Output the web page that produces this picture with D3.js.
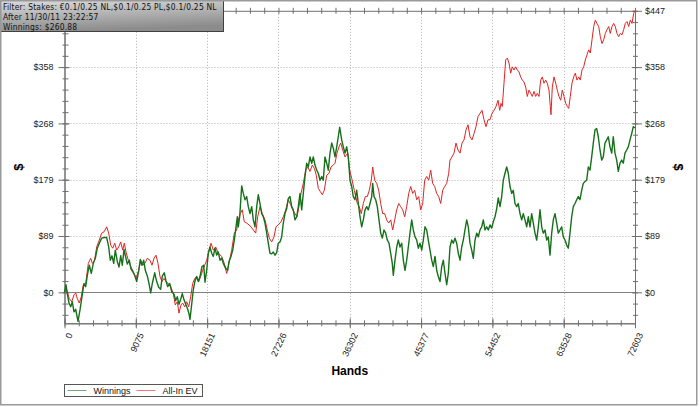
<!DOCTYPE html>
<html>
<head>
<meta charset="utf-8">
<script src="https://cdn.jsdelivr.net/npm/d3@7"></script>
<style>
  body { margin: 0; background: #fff; }
  svg { display: block; }
</style>
</head>
<body>
<script>

// [hands, dollars]
const winnings = [[0,0],[191,12],[356,-2],[573,-17],[789,-23],[993,-15],[1209,-31],[1425,-27],[1718,-46],[1973,-28],[2227,-7],[2482,14],[2698,9],[2902,27],[3156,43],[3411,30],[3665,46],[3920,54],[4174,70],[4429,78],[4734,86],[5065,87],[5370,87],[5625,72],[5829,51],[6045,58],[6261,46],[6465,67],[6719,49],[6936,40],[7152,58],[7356,43],[7572,68],[7788,56],[7992,45],[8246,51],[8463,37],[8679,33],[8934,27],[9188,17],[9443,34],[9646,52],[9863,43],[10079,51],[10283,35],[10537,26],[10754,14],[10970,-1],[11174,14],[11479,31],[11733,17],[11988,8],[12242,5],[12446,26],[12701,31],[12917,18],[13133,9],[13388,14],[13642,1],[13935,-3],[14151,-13],[14355,-7],[14571,-19],[14788,-11],[14991,-2],[15207,-12],[15424,-19],[15627,-25],[15844,-34],[15971,-43],[16187,-19],[16391,4],[16607,18],[16824,25],[17027,17],[17244,25],[17498,41],[17714,43],[17880,16],[18096,35],[18300,62],[18516,72],[18733,62],[18936,57],[19153,70],[19369,59],[19573,64],[19789,51],[20005,54],[20209,46],[20514,38],[20769,35],[20934,49],[21189,57],[21405,67],[21609,83],[21825,104],[21991,120],[22118,104],[22296,120],[22551,169],[22754,157],[22971,147],[23187,152],[23391,136],[23607,125],[23823,136],[24027,115],[24243,104],[24459,136],[24663,155],[24879,141],[25096,125],[25299,120],[25516,110],[25732,94],[25936,78],[26152,62],[26368,61],[26572,64],[26788,59],[27004,63],[27208,78],[27425,80],[27641,88],[27845,110],[28061,125],[28277,133],[28481,149],[28697,152],[28913,136],[29117,131],[29333,115],[29550,120],[29753,136],[29970,157],[30186,131],[30390,157],[30606,184],[30822,205],[31026,199],[31242,215],[31459,205],[31662,215],[31879,202],[32095,194],[32299,189],[32515,178],[32731,184],[32935,178],[33151,215],[33368,205],[33571,194],[33788,221],[34004,237],[34208,229],[34424,215],[34640,231],[34844,247],[35022,262],[35277,242],[35480,231],[35697,221],[35913,231],[36117,215],[36333,178],[36549,168],[36753,152],[36969,147],[37186,162],[37389,141],[37606,120],[37822,104],[38026,115],[38242,131],[38458,136],[38662,131],[38878,141],[39095,152],[39222,173],[39387,152],[39604,147],[39807,136],[40024,115],[40240,94],[40444,86],[40660,99],[40876,94],[41080,83],[41296,78],[41513,62],[41716,46],[41844,27],[42060,51],[42276,72],[42480,83],[42697,72],[42913,78],[43117,51],[43333,35],[43549,51],[43753,72],[43969,94],[44186,115],[44389,99],[44606,88],[44822,83],[45026,70],[45242,78],[45458,67],[45662,83],[45878,104],[46094,99],[46298,83],[46515,67],[46731,51],[46935,41],[47151,57],[47367,35],[47571,25],[47787,17],[48004,41],[48207,51],[48424,30],[48640,12],[48844,30],[49060,72],[49276,83],[49480,78],[49696,86],[49913,78],[50116,62],[50333,51],[50549,72],[50753,83],[50969,99],[51185,115],[51389,104],[51605,78],[51822,67],[52025,54],[52242,83],[52458,94],[52662,88],[52878,99],[53094,104],[53298,115],[53514,99],[53731,104],[53934,99],[54151,107],[54367,102],[54571,112],[54787,120],[55003,133],[55200,150],[55422,136],[55638,152],[55842,178],[56058,189],[56274,199],[56478,189],[56694,168],[56911,157],[57114,162],[57331,141],[57547,136],[57751,141],[57967,125],[58183,115],[58387,125],[58603,115],[58820,104],[59023,120],[59240,104],[59456,125],[59660,110],[59876,94],[60092,83],[60296,104],[60512,131],[60729,104],[60932,94],[61149,99],[61365,83],[61569,88],[61785,59],[62001,94],[62205,115],[62421,125],[62638,110],[62841,94],[63058,99],[63274,104],[63478,88],[63694,83],[63910,75],[64114,70],[64330,94],[64546,120],[64750,136],[64967,141],[65183,147],[65387,152],[65603,147],[65819,162],[66023,173],[66239,176],[66456,178],[66659,199],[66876,194],[67092,215],[67296,237],[67512,258],[67728,260],[67932,247],[68148,226],[68364,210],[68568,215],[68784,237],[69001,242],[69204,247],[69421,231],[69637,221],[69841,247],[70057,221],[70273,210],[70477,192],[70693,205],[70910,210],[71113,205],[71330,221],[71546,226],[71750,231],[71966,242],[72182,252],[72386,263],[72603,261]]

const allInEV = [[0,0],[280,4],[611,-10],[916,-15],[1209,-4],[1425,-1],[1629,-10],[1883,-17],[2138,-7],[2392,12],[2698,14],[3029,46],[3334,54],[3538,46],[3792,49],[4098,72],[4429,83],[4734,94],[5027,96],[5370,104],[5625,94],[5879,75],[6134,70],[6388,78],[6643,67],[6897,72],[7152,80],[7407,67],[7610,78],[7826,64],[8119,51],[8424,41],[8755,33],[9099,22],[9443,35],[9697,51],[9952,43],[10244,46],[10537,54],[10881,51],[11135,43],[11390,54],[11644,59],[11899,46],[12153,25],[12408,17],[12662,22],[12917,17],[13210,14],[13515,9],[13846,-2],[14100,-20],[14355,-15],[14571,-33],[14826,-20],[15042,-17],[15297,-23],[15551,-15],[15806,-23],[16060,-7],[16315,14],[16569,22],[16824,25],[17078,17],[17333,25],[17587,35],[17842,43],[18096,51],[18325,63],[18644,78],[18936,67],[19242,72],[19573,62],[20005,57],[20336,46],[20642,30],[20934,46],[21278,67],[21609,94],[21914,99],[22118,115],[22372,125],[22627,131],[22881,112],[23187,110],[23480,107],[23734,104],[24027,99],[24332,94],[24587,120],[24879,136],[25172,125],[25516,115],[25808,99],[26063,86],[26368,80],[26661,88],[26915,104],[27208,107],[27552,112],[27845,120],[28150,131],[28481,147],[28786,139],[29041,131],[29333,125],[29588,120],[29843,136],[30097,157],[30390,173],[30695,194],[30950,199],[31242,192],[31535,202],[31790,197],[32044,186],[32299,165],[32553,160],[32808,155],[33062,162],[33368,186],[33661,189],[33915,199],[34208,202],[34424,205],[34679,221],[34933,231],[35149,237],[35404,226],[35697,215],[36041,221],[36295,194],[36549,181],[36880,162],[37262,141],[37516,136],[37771,125],[38026,141],[38280,152],[38535,152],[38789,162],[39044,178],[39222,199],[39476,178],[39731,173],[39985,162],[40240,141],[40495,125],[40749,125],[41004,115],[41258,110],[41513,115],[41767,99],[42022,115],[42276,131],[42531,141],[42785,136],[43040,131],[43294,120],[43549,136],[43803,157],[44058,168],[44312,157],[44567,162],[44822,147],[45076,152],[45331,131],[45585,141],[45840,178],[46094,184],[46349,178],[46603,194],[46858,173],[47112,168],[47367,157],[47621,152],[47876,141],[48130,162],[48385,168],[48640,173],[48894,189],[49060,210],[49314,215],[49569,221],[49823,237],[50078,226],[50333,221],[50587,237],[50842,242],[51096,258],[51351,266],[51605,247],[51860,242],[52114,252],[52369,263],[52623,279],[52878,284],[53132,289],[53387,274],[53641,263],[53896,274],[54151,274],[54405,284],[54660,289],[54914,295],[55169,305],[55385,289],[55550,300],[55715,295],[55931,332],[56147,369],[56351,372],[56567,364],[56783,348],[56987,358],[57203,353],[57419,358],[57623,353],[57840,350],[58056,342],[58260,337],[58476,334],[58692,326],[58896,311],[59112,321],[59328,316],[59532,311],[59748,319],[59964,311],[60168,316],[60385,311],[60601,337],[60805,342],[61021,332],[61237,337],[61441,332],[61657,321],[61823,295],[61912,282],[62078,326],[62294,342],[62510,332],[62714,321],[62930,311],[63147,305],[63350,321],[63567,311],[63783,300],[63987,295],[64165,292],[64369,311],[64585,332],[64801,342],[65005,348],[65222,337],[65438,342],[65642,337],[65858,353],[66074,358],[66278,369],[66494,377],[66710,385],[66914,380],[67130,401],[67347,422],[67550,432],[67767,427],[67983,422],[68187,406],[68403,395],[68619,401],[68823,411],[69039,417],[69256,422],[69459,411],[69676,422],[69892,427],[70096,422],[70312,411],[70528,406],[70732,411],[70948,409],[71165,417],[71368,427],[71585,430],[71801,422],[72005,432],[72221,427],[72437,443],[72603,447]]

const xTicks = [0, 9075, 18151, 27226, 36302, 45377, 54452, 63528, 72603]
const xTickLabels = ['0', '9075', '18151', '27226', '36302', '45377', '54452', '63528', '72603']
const yTicks = [0, 89.4, 178.8, 268.2, 357.6, 447]
const yTickLabels = ['$0', '$89', '$179', '$268', '$358', '$447']
const infoLines = ['Filter: Stakes: €0.1/0.25 NL,$0.1/0.25 PL,$0.1/0.25 NL', 'After 11/30/11 23:22:57', 'Winnings: $260.88']
const seriesNames = ['Winnings', 'All-In EV']
const seriesColors = ['#16701a', '#e02424']

const W = 700, H = 407
const pLeft = 64.5, pRight = 635, pTop = 10.8, pBottom = 323.3

const x = d3.scaleLinear().domain([0, 72603]).range([pLeft, pRight])
const y = d3.scaleLinear().domain([-49.2, 447]).range([pBottom, pTop])

const xMinor = d3.range(0, 41).map(i => 72603 * i / 40)
const yMinor = d3.range(-2, 26).map(i => 17.88 * i)

const font = '"Liberation Sans", Arial, sans-serif'

const svg = d3.select('body')
    .append('svg')
    .attr('width', W)
    .attr('height', H)
    .style('font-family', font)

svg.append('rect')
    .attr('width', W)
    .attr('height', H)
    .attr('fill', '#fff')

// grid
svg.append('g')
    .selectAll('line')
    .data(xTicks.slice(1, -1))
    .join('line')
    .attr('x1', d => Math.round(x(d)) + 0.5)
    .attr('x2', d => Math.round(x(d)) + 0.5)
    .attr('y1', pTop)
    .attr('y2', pBottom)
    .attr('stroke', '#b0b0b0')
    .attr('stroke-dasharray', '1,2')

svg.append('g')
    .selectAll('line')
    .data(yTicks.slice(1, -1))
    .join('line')
    .attr('x1', pLeft)
    .attr('x2', pRight)
    .attr('y1', d => Math.round(y(d)) + 0.5)
    .attr('y2', d => Math.round(y(d)) + 0.5)
    .attr('stroke', '#b0b0b0')
    .attr('stroke-dasharray', '1,2')

svg.append('line')
    .attr('x1', pLeft)
    .attr('x2', pRight)
    .attr('y1', Math.round(y(0)) + 0.5)
    .attr('y2', Math.round(y(0)) + 0.5)
    .attr('stroke', '#808080')

// axes
function styleAxis(g, along, inner, outer) {
    g.select('.domain').attr('stroke', '#707070')
    g.selectAll('.tick line').attr('stroke', '#707070')
    if (along === 'x') g.selectAll('.tick line').attr('y1', inner).attr('y2', outer)
    else g.selectAll('.tick line').attr('x1', inner).attr('x2', outer)
    g.selectAll('text').attr('fill', '#222').style('font-size', '9px').style('font-family', font)
}

svg.append('g')
    .attr('transform', `translate(0,${pBottom})`)
    .call(d3.axisBottom(x).tickValues(xMinor).tickFormat('').tickSizeOuter(0))
    .call(g => styleAxis(g, 'x', -3, 3))

svg.append('g')
    .attr('transform', `translate(0,${pBottom})`)
    .call(d3.axisBottom(x).tickValues(xTicks).tickFormat((d, i) => xTickLabels[i]).tickSizeOuter(0))
    .call(g => styleAxis(g, 'x', -5, 5))
    .call(g => g.selectAll('text')
        .attr('x', 0).attr('y', 0).attr('dy', '0.35em')
        .attr('text-anchor', 'end')
        .attr('transform', 'translate(5,10) rotate(-65)'))

svg.append('g')
    .attr('transform', `translate(0,${pTop})`)
    .call(d3.axisTop(x).tickValues(xMinor).tickFormat('').tickSizeOuter(0))
    .call(g => styleAxis(g, 'x', -3, 3))

svg.append('g')
    .attr('transform', `translate(${pLeft},0)`)
    .call(d3.axisLeft(y).tickValues(yMinor.filter(v => v >= -49)).tickFormat('').tickSizeOuter(0))
    .call(g => styleAxis(g, 'y', -2, 4))

// the top left label sits under the info box, so it is left out
svg.append('g')
    .attr('transform', `translate(${pLeft},0)`)
    .call(d3.axisLeft(y).tickValues(yTicks).tickFormat((d, i) => i < yTicks.length - 1 ? yTickLabels[i] : '').tickSize(6).tickPadding(5).tickSizeOuter(0))
    .call(g => styleAxis(g, 'y', -6, 5))

svg.append('g')
    .attr('transform', `translate(${pRight},0)`)
    .call(d3.axisRight(y).tickValues(yMinor.filter(v => v >= -49)).tickFormat('').tickSizeOuter(0))
    .call(g => styleAxis(g, 'y', -2, 3))

svg.append('g')
    .attr('transform', `translate(${pRight},0)`)
    .call(d3.axisRight(y).tickValues(yTicks).tickFormat((d, i) => yTickLabels[i]).tickSize(7).tickPadding(3).tickSizeOuter(0))
    .call(g => styleAxis(g, 'y', -3, 7))

// series
const line = d3.line()
    .x(d => x(d[0]))
    .y(d => y(d[1]))

svg.append('path')
    .datum(allInEV)
    .attr('fill', 'none')
    .attr('stroke', seriesColors[1])
    .attr('stroke-width', 1)
    .attr('stroke-linejoin', 'round')
    .attr('d', line)

svg.append('path')
    .datum(winnings)
    .attr('fill', 'none')
    .attr('stroke', seriesColors[0])
    .attr('stroke-width', 1.4)
    .attr('stroke-linejoin', 'round')
    .attr('d', line)

// titles
svg.append('text')
    .attr('x', (pLeft + pRight) / 2)
    .attr('y', 375)
    .attr('text-anchor', 'middle')
    .style('font-size', '12px')
    .style('font-weight', 'bold')
    .text('Hands')

svg.append('text')
    .attr('transform', `translate(18,${(pTop + pBottom) / 2}) rotate(-90)`)
    .attr('text-anchor', 'middle')
    .attr('dy', '0.35em')
    .style('font-size', '13px')
    .style('font-weight', 'bold')
    .text('$')

svg.append('text')
    .attr('transform', `translate(679,${(pTop + pBottom) / 2}) rotate(90)`)
    .attr('text-anchor', 'middle')
    .attr('dy', '0.35em')
    .style('font-size', '13px')
    .style('font-weight', 'bold')
    .text('$')

// legend
const legend = svg.append('g')
    .attr('transform', 'translate(64.5,384.5)')

legend.append('rect')
    .attr('width', 138)
    .attr('height', 12)
    .attr('fill', '#fff')
    .attr('stroke', '#555')

const item = legend.selectAll('g')
    .data(seriesNames)
    .join('g')
    .attr('transform', (d, i) => `translate(${3 + i * 69},0)`)

item.append('line')
    .attr('x1', 0)
    .attr('x2', 19)
    .attr('y1', 6)
    .attr('y2', 6)
    .attr('stroke', (d, i) => seriesColors[i])
    .attr('stroke-opacity', 0.6)

item.append('text')
    .attr('x', 26)
    .attr('y', 9.5)
    .style('font-size', '9px')
    .attr('fill', '#111')
    .text(d => d)

// info box
const grad = svg.append('defs')
    .append('linearGradient')
    .attr('id', 'infoGrad')
    .attr('x1', 0).attr('y1', 0).attr('x2', 0.3).attr('y2', 1)

grad.append('stop').attr('offset', 0).attr('stop-color', '#dcdcdc')
grad.append('stop').attr('offset', 1).attr('stop-color', '#8c8c8c')

svg.append('rect')
    .attr('x', 0.5)
    .attr('y', 0.5)
    .attr('width', 223)
    .attr('height', 31)
    .attr('fill', 'url(#infoGrad)')
    .attr('stroke', '#404040')

svg.append('g')
    .selectAll('text')
    .data(infoLines)
    .join('text')
    .attr('x', 3)
    .attr('y', (d, i) => 9.5 + i * 10)
    .style('font-family', '"DejaVu Sans Condensed", "DejaVu Sans", sans-serif')
    .style('font-size', '8.4px')
    .style('letter-spacing', '0.22px')
    .attr('fill', '#111')
    .text(d => d)

// frame
svg.append('rect')
    .attr('x', 0.75)
    .attr('y', 0.75)
    .attr('width', W - 4)
    .attr('height', H - 3)
    .attr('fill', 'none')
    .attr('stroke', '#999')
    .attr('stroke-width', 1.5)

</script>
</body>
</html>
